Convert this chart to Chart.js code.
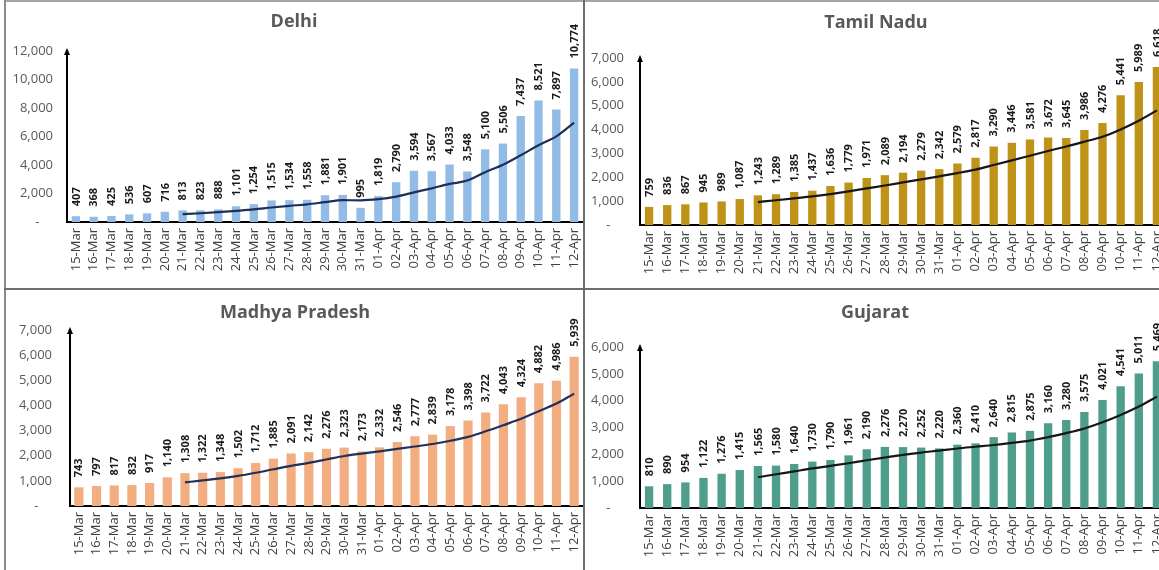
<!DOCTYPE html>
<html>
<head>
<meta charset="utf-8">
<title>State-wise daily trend</title>
<script src="https://cdn.jsdelivr.net/npm/chart.js@4.4.1/dist/chart.umd.min.js"></script>
<style>
    html, body { margin: 0; padding: 0; background: #fff; }
    body { width: 1159px; height: 570px; overflow: hidden; position: relative; }
    .panel { position: absolute; }
    .rule { position: absolute; background: #6e6e6e; z-index: 2; }
</style>
</head>
<body>
<div class="rule" style="left:4px;top:0;width:1155px;height:2px;background:#a6a6a6"></div>
<div class="rule" style="left:4px;top:0;width:2px;height:570px;background:#8c8c8c"></div>
<div class="rule" style="left:583px;top:0;width:2px;height:570px"></div>
<div class="rule" style="left:4px;top:288px;width:1155px;height:2px"></div>

<div class="panel" style="left:5px;top:2px"><canvas id="delhi" width="579" height="286"></canvas></div>
<div class="panel" style="left:586px;top:2px"><canvas id="tamilnadu" width="590" height="286"></canvas></div>
<div class="panel" style="left:5px;top:290px"><canvas id="mp" width="579" height="280"></canvas></div>
<div class="panel" style="left:586px;top:290px"><canvas id="gujarat" width="590" height="280"></canvas></div>

<script>
var days = ['15-Mar', '16-Mar', '17-Mar', '18-Mar', '19-Mar', '20-Mar', '21-Mar', '22-Mar', '23-Mar', '24-Mar',
    '25-Mar', '26-Mar', '27-Mar', '28-Mar', '29-Mar', '30-Mar', '31-Mar', '01-Apr', '02-Apr', '03-Apr',
    '04-Apr', '05-Apr', '06-Apr', '07-Apr', '08-Apr', '09-Apr', '10-Apr', '11-Apr', '12-Apr'];

var delhiCases = [407, 368, 425, 536, 607, 716, 813, 823, 888, 1101, 1254, 1515, 1534, 1558, 1881, 1901, 995,
    1819, 2790, 3594, 3567, 4033, 3548, 5100, 5506, 7437, 8521, 7897, 10774];
var delhiTrend = [null, null, null, null, null, null, 553, 613, 687, 783, 886, 1016, 1133, 1239, 1390, 1535, 1520,
    1600, 1783, 2077, 2364, 2671, 2907, 3493, 4020, 4684, 5387, 6006, 6969];
var delhiTicks = [0, 2000, 4000, 6000, 8000, 10000, 12000];

var tnCases = [759, 836, 867, 945, 989, 1087, 1243, 1289, 1385, 1437, 1636, 1779, 1971, 2089, 2194, 2279, 2342,
    2579, 2817, 3290, 3446, 3581, 3672, 3645, 3986, 4276, 5441, 5989, 6618];
var tnTrend = [null, null, null, null, null, null, 961, 1037, 1115, 1196, 1295, 1408, 1534, 1655, 1784, 1912, 2041,
    2176, 2324, 2513, 2707, 2905, 3104, 3290, 3491, 3699, 4007, 4370, 4804];
var tnTicks = [0, 1000, 2000, 3000, 4000, 5000, 6000, 7000];

var mpCases = [743, 797, 817, 832, 917, 1140, 1308, 1322, 1348, 1502, 1712, 1885, 2091, 2142, 2276, 2323, 2173,
    2332, 2546, 2777, 2839, 3178, 3398, 3722, 4043, 4324, 4882, 4986, 5939];
var mpTrend = [null, null, null, null, null, null, 936, 1019, 1098, 1196, 1321, 1460, 1595, 1715, 1851, 1990, 2086,
    2175, 2269, 2367, 2467, 2595, 2749, 2970, 3215, 3469, 3769, 4076, 4471];
var mpTicks = [0, 1000, 2000, 3000, 4000, 5000, 6000, 7000];

var gujCases = [810, 890, 954, 1122, 1276, 1415, 1565, 1580, 1640, 1730, 1790, 1961, 2190, 2276, 2270, 2252, 2220,
    2360, 2410, 2640, 2815, 2875, 3160, 3280, 3575, 4021, 4541, 5011, 5469];
var gujTrend = [null, null, null, null, null, null, 1147, 1257, 1365, 1475, 1571, 1669, 1779, 1881, 1980, 2067, 2137,
    2218, 2283, 2347, 2424, 2510, 2640, 2791, 2965, 3195, 3467, 3780, 4151];
var gujTicks = [0, 1000, 2000, 3000, 4000, 5000, 6000];

var FONT = '"Open Sans", "Noto Sans", sans-serif';
var fmt = new Intl.NumberFormat('en-US');

Chart.defaults.font.family = FONT;
Chart.defaults.animation = false;

// Judul, label angka tegak di atas batang, dan panah di ujung sumbu Y
var panelDecor = {
    id: 'panelDecor',
    afterDatasetsDraw: function (chart, args, opts) {
        var ctx = chart.ctx;
        var area = chart.chartArea;
        var meta = chart.getDatasetMeta(0);
        var values = chart.data.datasets[0].data;

        ctx.save();
        ctx.font = 'bold 11px ' + FONT;
        ctx.fillStyle = opts.labelColor || '#1a1a1a';
        ctx.textAlign = 'left';
        ctx.textBaseline = 'middle';
        meta.data.forEach(function (bar, i) {
            ctx.save();
            ctx.translate(bar.x + 0.5, bar.y - 10);
            ctx.rotate(-Math.PI / 2);
            ctx.fillText(fmt.format(values[i]), 0, 0);
            ctx.restore();
        });

        // panah sumbu Y
        ctx.fillStyle = '#000';
        ctx.beginPath();
        ctx.moveTo(area.left, area.top - 3);
        ctx.lineTo(area.left - 3, area.top + 4);
        ctx.lineTo(area.left + 3, area.top + 4);
        ctx.closePath();
        ctx.fill();

        // judul
        ctx.font = 'bold 18px ' + FONT;
        ctx.fillStyle = '#595959';
        ctx.textAlign = 'center';
        ctx.fillText(opts.title, opts.titleX, opts.titleY);
        ctx.restore();
    }
};

function makeChart(id, cases, trend, ticks, s) {
    var el = document.getElementById(id);
    return new Chart(el, {
        type: 'bar',
        data: {
            labels: days,
            datasets: [
                { type: 'bar', data: cases, backgroundColor: s.bar, barPercentage: s.barPct, categoryPercentage: 1, order: 2 },
                { type: 'line', data: trend, borderColor: s.line, borderWidth: 2.2, pointRadius: 0, cubicInterpolationMode: 'monotone', fill: false, order: 1 }
            ]
        },
        options: {
            responsive: false,
            layout: { padding: { top: s.top, right: s.right, left: 0, bottom: 0 } },
            plugins: {
                legend: { display: false },
                tooltip: { enabled: false },
                panelDecor: { title: s.title, titleX: s.titleX, titleY: s.titleY }
            },
            scales: {
                x: {
                    grid: { display: false, drawTicks: false },
                    border: { display: true, color: '#000', width: 2 },
                    ticks: { autoSkip: false, maxRotation: 90, minRotation: 90, padding: 6, color: '#404040', font: { size: 13 } },
                    afterFit: function (scale) {
                        scale.height = s.xHeight;
                        scale.paddingLeft = 0;
                        scale.paddingRight = 0;
                    }
                },
                y: {
                    min: ticks[0],
                    max: ticks[ticks.length - 1],
                    grid: { display: false, drawTicks: false },
                    border: { display: true, color: '#000', width: 2 },
                    afterBuildTicks: function (scale) {
                        scale.ticks = ticks.map(function (v) { return { value: v }; });
                    },
                    ticks: {
                        padding: s.yPad,
                        color: '#595959',
                        font: { size: 13 },
                        callback: function (v) { return v === 0 ? '-    ' : fmt.format(v); }
                    },
                    afterFit: function (scale) {
                        scale.width = s.yWidth;
                        scale.paddingTop = 0;
                        scale.paddingBottom = 0;
                    }
                }
            }
        },
        plugins: [panelDecor]
    });
}

makeChart('delhi', delhiCases, delhiTrend, delhiTicks, {
    title: 'Delhi', titleX: 289, titleY: 20, bar: '#92BBE6', line: '#1f2f57', barPct: 0.47,
    top: 49, right: 1, xHeight: 66, yWidth: 62, yPad: 14
});
makeChart('tamilnadu', tnCases, tnTrend, tnTicks, {
    title: 'Tamil Nadu', titleX: 290, titleY: 21, bar: '#BF9317', line: '#161616', barPct: 0.46,
    top: 56, right: 10, xHeight: 63, yWidth: 54, yPad: 16
});
makeChart('mp', mpCases, mpTrend, mpTicks, {
    title: 'Madhya Pradesh', titleX: 290, titleY: 23, bar: '#F2AE80', line: '#22305a', barPct: 0.52,
    top: 40, right: 1, xHeight: 64, yWidth: 65, yPad: 18
});
makeChart('gujarat', gujCases, gujTrend, gujTicks, {
    title: 'Gujarat', titleX: 289, titleY: 23, bar: '#4F9E8B', line: '#161616', barPct: 0.46,
    top: 57, right: 10, xHeight: 62, yWidth: 54, yPad: 16
});
</script>
</body>
</html>
